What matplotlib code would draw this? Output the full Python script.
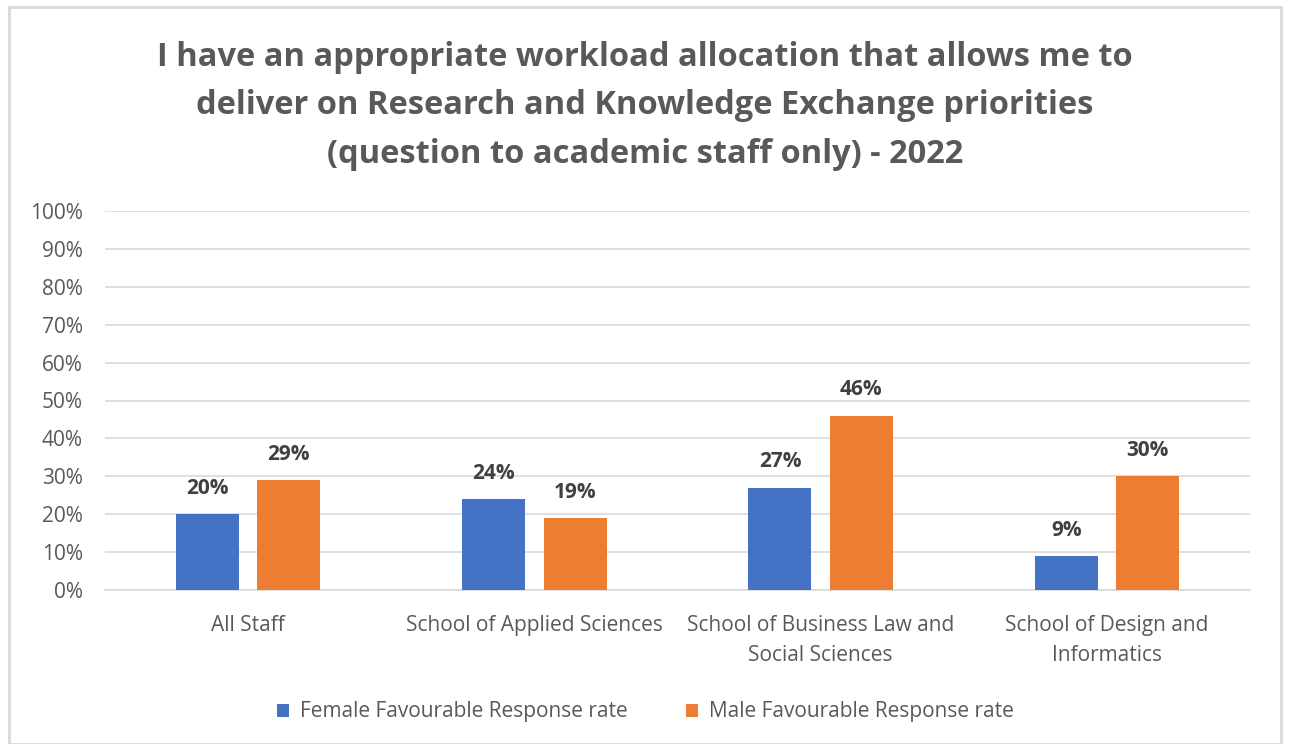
import matplotlib.pyplot as plt
import numpy as np
from matplotlib.patches import Rectangle

# Survey results, 2022
categories = ["All Staff", "School of Applied Sciences",
              "School of Business Law and\nSocial Sciences",
              "School of Design and\nInformatics"]
female = [20, 24, 27, 9]
male = [29, 19, 46, 30]
series_names = ["Female Favourable Response rate", "Male Favourable Response rate"]
yticks = list(range(0, 101, 10))

BLUE = "#4472C4"
ORANGE = "#ED7D31"
GREY = "#595959"

plt.rcParams["font.family"] = ["Open Sans", "DejaVu Sans"]

fig = plt.figure(figsize=(12.9, 7.44), dpi=100)

# outer chart border
fig.patches.append(Rectangle((9 / 1290, 0), 1272 / 1290, 737 / 744,
                             transform=fig.transFigure, fill=False,
                             ec="#d9d9d9", lw=2))

ax = fig.add_axes([105 / 1290, 1 - 590 / 744, 1145 / 1290, 379 / 744])

x = np.arange(len(categories))
w = 0.22
off = 0.142
b1 = ax.bar(x - off, female, w, color=BLUE, label=series_names[0], zorder=3)
b2 = ax.bar(x + off, male, w, color=ORANGE, label=series_names[1], zorder=3)

for bars, vals in [(b1, female), (b2, male)]:
    for r, v in zip(bars, vals):
        ax.annotate(f"{v}%", (r.get_x() + r.get_width() / 2, v),
                    xytext=(0, 11), textcoords="offset points",
                    ha="center", va="bottom", fontsize=15, fontweight="bold",
                    color="#404040")

ax.set_xlim(-0.5, len(categories) - 0.5)
ax.set_ylim(0, 100)
ax.set_yticks(yticks)
ax.set_yticklabels([f"{t}%" for t in yticks])
ax.set_xticks(x)
ax.set_xticklabels(categories, linespacing=1.55)
ax.yaxis.grid(True, color="#d9d9d9", lw=1.2, zorder=0)
ax.tick_params(axis="both", length=0, labelsize=15, labelcolor=GREY)
ax.tick_params(axis="x", pad=18)
ax.tick_params(axis="y", pad=16)
for s in ["top", "right", "left"]:
    ax.spines[s].set_visible(False)
ax.spines["bottom"].set_color("#d9d9d9")
ax.spines["bottom"].set_linewidth(1.2)

fig.text(0.5, 1 - 106 / 744,
         "I have an appropriate workload allocation that allows me to\n"
         "deliver on Research and Knowledge Exchange priorities\n"
         "(question to academic staff only) - 2022",
         ha="center", va="center", fontsize=23.5, fontweight="bold",
         color=GREY, linespacing=1.63)

fig.legend(handles=[b1, b2], labels=series_names, loc="center",
           bbox_to_anchor=(0.5, 1 - 712 / 744), ncol=2, frameon=False,
           fontsize=15, labelcolor=GREY, handlelength=0.6, handleheight=0.6,
           handletextpad=0.5, columnspacing=2.8)

fig.savefig("out.png", dpi=100, facecolor="white")
